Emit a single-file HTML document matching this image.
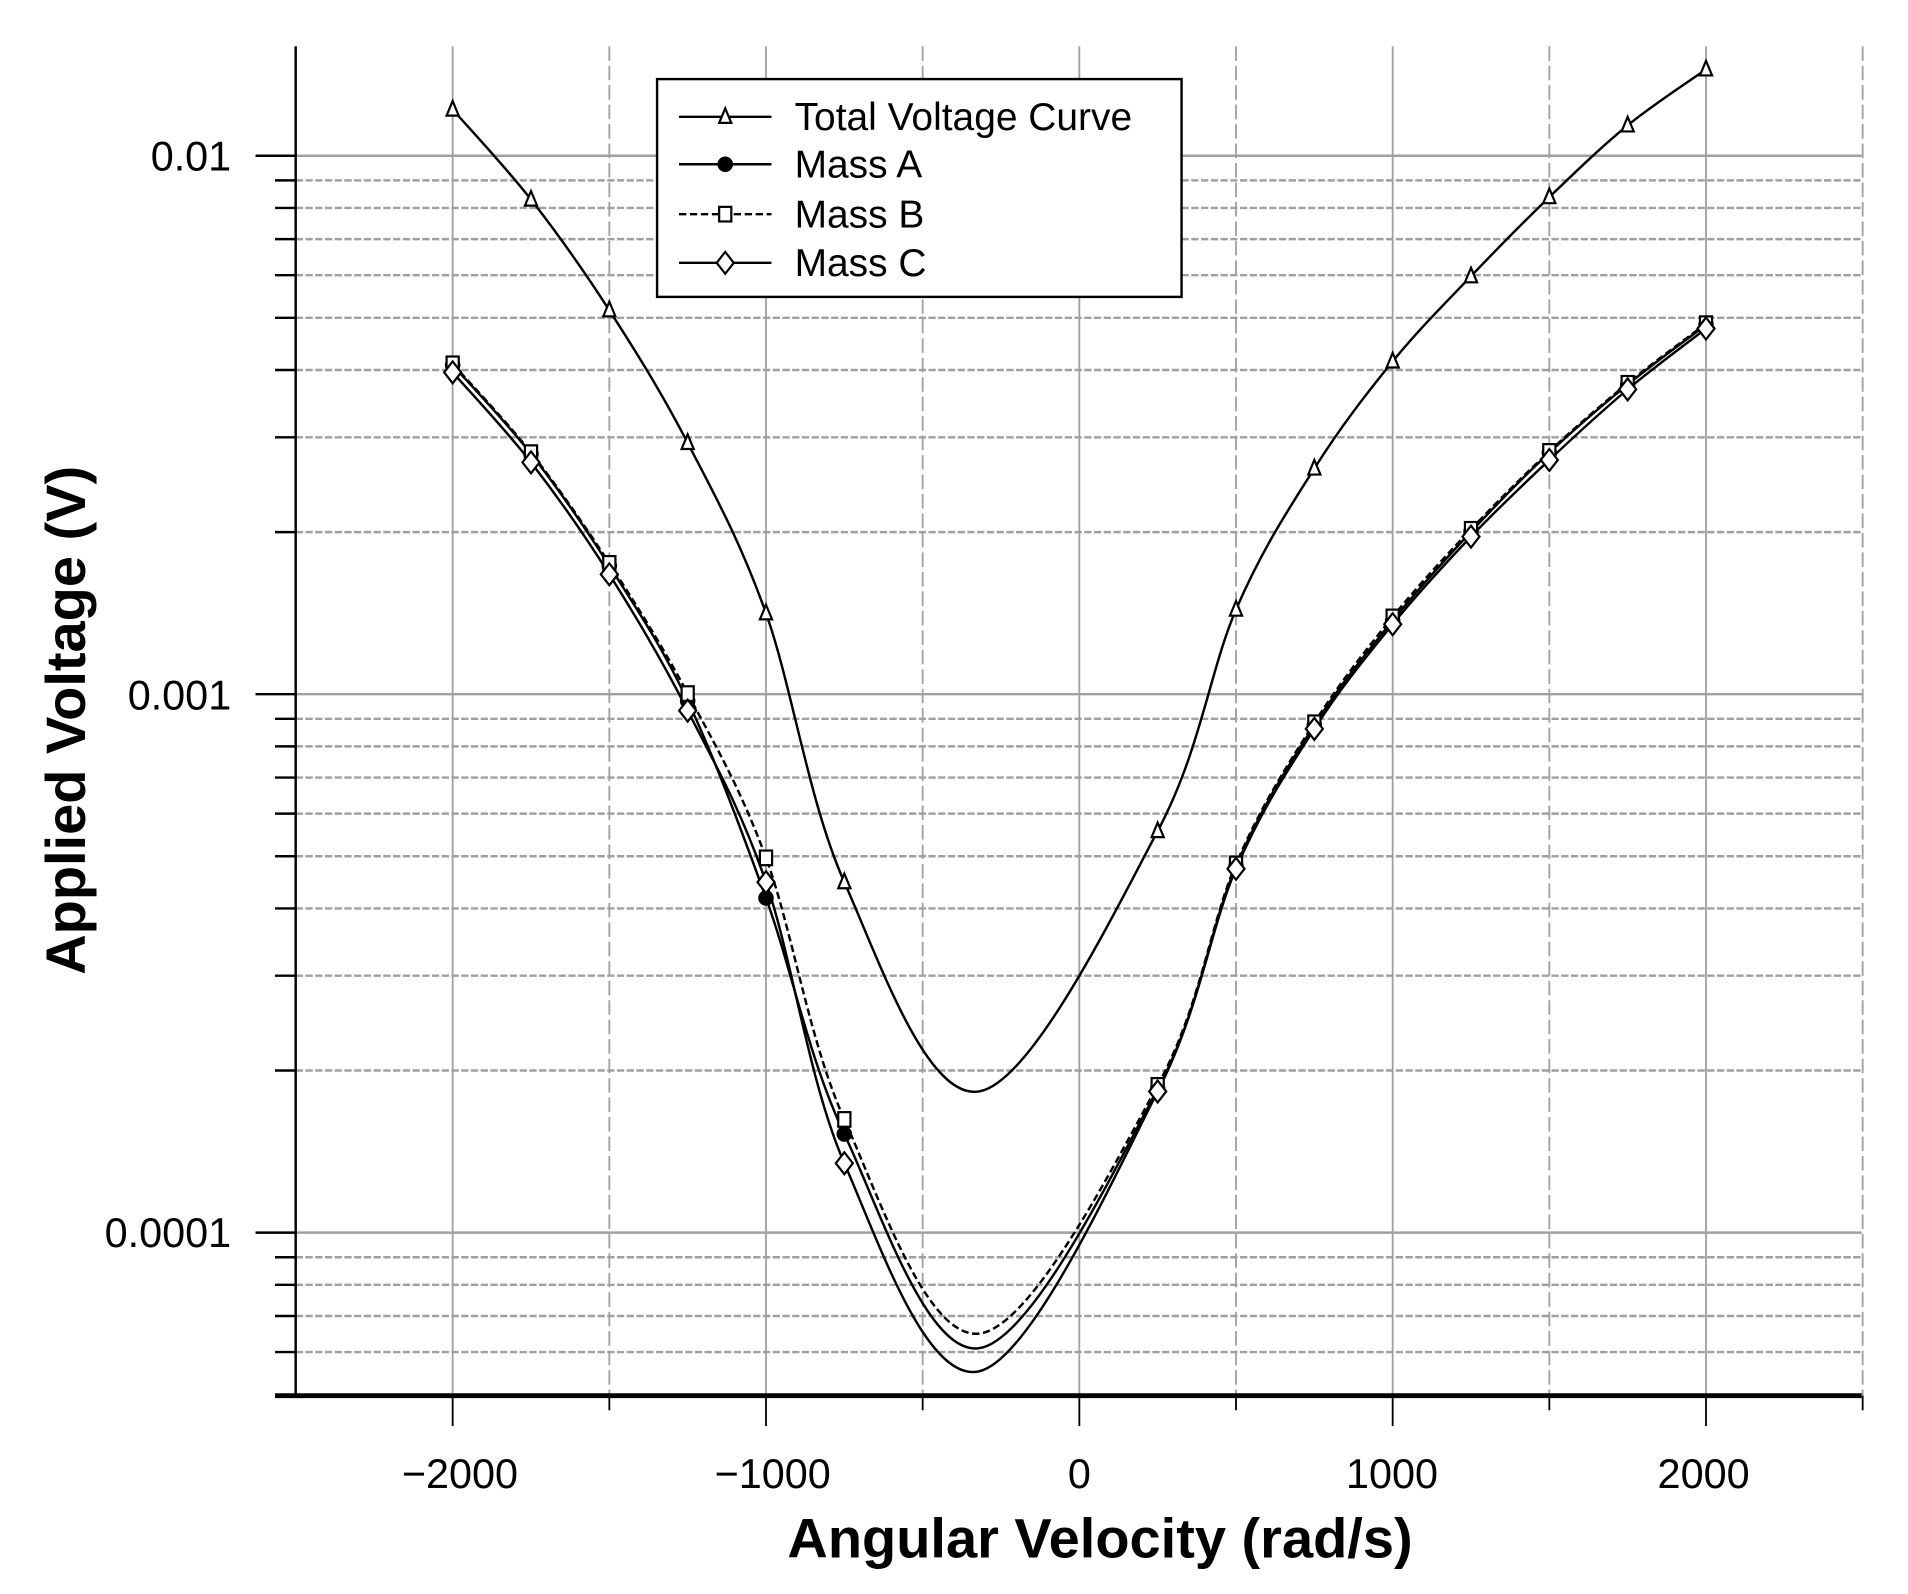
<!DOCTYPE html>
<html><head><meta charset="utf-8"><style>
html,body{margin:0;padding:0;background:#fff;}
svg{display:block;}
text{font-family:"Liberation Sans",Arial,sans-serif;}
</style></head><body>
<svg id="s" width="1908" height="1594" viewBox="0 0 1568 1310" preserveAspectRatio="none" xmlns="http://www.w3.org/2000/svg">
<rect width="1568" height="1310" fill="#fff"/>
<g id="grid"></g>
<g id="axes"></g>
<g id="series"></g>
<g id="legend"></g>
<text x="190" y="140" font-size="34" text-anchor="end">0.01</text>
<text x="190" y="583" font-size="34" text-anchor="end">0.001</text>
<text x="190" y="1025" font-size="34" text-anchor="end">0.0001</text>
<text x="378" y="1223" font-size="34" text-anchor="middle">−2000</text>
<text x="635" y="1223" font-size="34" text-anchor="middle">−1000</text>
<text x="887" y="1223" font-size="34" text-anchor="middle">0</text>
<text x="1144" y="1223" font-size="34" text-anchor="middle">1000</text>
<text x="1400" y="1223" font-size="34" text-anchor="middle">2000</text>
<text x="904" y="1280" font-size="46" font-weight="bold" text-anchor="middle">Angular Velocity (rad/s)</text>
<text transform="translate(70,592) rotate(-90)" font-size="46" font-weight="bold" text-anchor="middle">Applied Voltage (V)</text>
</svg>
<script>
const NS="http://www.w3.org/2000/svg";
function el(p,t,a){const e=document.createElementNS(NS,t);for(const k in a)e.setAttribute(k,a[k]);document.getElementById(p).appendChild(e);return e;}
const X=v=>887+v*0.2575;
const Y=v=>128-(Math.log10(v)+2)*442.5;
for(let d=-5;d<=-2;d++){for(let m=1;m<=9;m++){const v=m*Math.pow(10,d);const y=Y(v);if(y<38||y>1147)continue;
 if(m==1){el('grid','line',{x1:243,x2:1530,y1:y,y2:y,stroke:'#a0a0a0','stroke-width':2});el('axes','line',{x1:210,x2:243,y1:y,y2:y,stroke:'#000','stroke-width':2});}
 else{el('grid','line',{x1:243,x2:1530,y1:y,y2:y,stroke:'#a0a0a0','stroke-width':2,'stroke-dasharray':'6,2'});el('axes','line',{x1:226,x2:243,y1:y,y2:y,stroke:'#000','stroke-width':2});}}}
for(let v=-2000;v<=2500;v+=500){const x=X(v);const maj=v%1000==0;
 el('grid','line',{x1:x,x2:x,y1:38,y2:1147,stroke:'#a0a0a0','stroke-width':1.5,'stroke-dasharray':maj?'none':'12,4'});
 el('axes','line',{x1:x,x2:x,y1:1147,y2:maj?1172:1159,stroke:'#000','stroke-width':1.5});}
el('axes','line',{x1:243,x2:243,y1:38,y2:1147,stroke:'#000','stroke-width':2});
el('axes','line',{x1:226,x2:1530,y1:1147,y2:1147,stroke:'#000','stroke-width':4});
function cr(pts){let d='M'+pts[0][0]+','+pts[0][1];for(let i=0;i<pts.length-1;i++){const p0=pts[Math.max(0,i-1)],p1=pts[i],p2=pts[i+1],p3=pts[Math.min(pts.length-1,i+2)];
 const c1=[p1[0]+(p2[0]-p0[0])/6,p1[1]+(p2[1]-p0[1])/6],c2=[p2[0]-(p3[0]-p1[0])/6,p2[1]-(p3[1]-p1[1])/6];d+=' C'+c1+' '+c2+' '+p2;}return d;}
const S=[
 {m:'tri',dash:'none',p:[[-2000,90,1],[-1750,164,1],[-1500,255,1],[-1250,364,1],[-1000,504,1],[-750,725,1],[-320,897,0],[250,683,1],[500,501,1],[750,385,1],[1000,297,1],[1250,227,1],[1500,162,1],[1750,103,1],[2000,57,1]]},
 {m:'dot',dash:'none',p:[[-2000,300,1],[-1750,373,1],[-1500,465,1],[-1250,576,1],[-1000,738,1],[-750,932,1],[-320,1108,0],[250,895,1],[500,712,1],[750,596,1],[1000,510,1],[1250,437,1],[1500,372,1],[1750,316,1],[2000,267,1]]},
 {m:'sq',dash:'6,3',p:[[-2000,299,1],[-1750,372,1],[-1500,463,1],[-1250,570,1],[-1000,705,1],[-750,920,1],[-320,1096,0],[250,892,1],[500,710,1],[750,594,1],[1000,507,1],[1250,435,1],[1500,371,1],[1750,315,1],[2000,266,1]]},
 {m:'dia',dash:'none',p:[[-2000,306,1],[-1750,380,1],[-1500,472,1],[-1250,584,1],[-1000,725,1],[-750,956,1],[-320,1127,0],[250,897,1],[500,714,1],[750,599,1],[1000,513,1],[1250,441,1],[1500,378,1],[1750,320,1],[2000,270,1]]}];
function marker(g,t,x,y){const a={stroke:'#000','stroke-width':1.8};
 if(t=='tri')el(g,'polygon',Object.assign({points:`${x},${y-7} ${x-5},${y+5} ${x+5},${y+5}`,fill:'#fff'},a));
 if(t=='dot')el(g,'circle',Object.assign({cx:x,cy:y,r:5.5,fill:'#000'},a));
 if(t=='sq')el(g,'rect',Object.assign({x:x-5,y:y-6,width:10,height:12,fill:'#fff'},a));
 if(t=='dia')el(g,'polygon',Object.assign({points:`${x},${y-9} ${x+7},${y} ${x},${y+9} ${x-7},${y}`,fill:'#fff'},a));}
S.forEach(s=>{const pts=s.p.map(q=>[X(q[0]),q[1]]);el('series','path',{d:cr(pts),fill:'none',stroke:'#000','stroke-width':2,'stroke-dasharray':s.dash});});
S.forEach(s=>s.p.forEach(q=>{if(q[2])marker('series',s.m,X(q[0]),q[1]);}));
el('legend','rect',{x:540,y:65,width:431,height:179,fill:'#fff',stroke:'#000','stroke-width':2});
const L=[['Total Voltage Curve','tri','none',96],['Mass A','dot','none',135],['Mass B','sq','6,3',176],['Mass C','dia','none',216]];
L.forEach(l=>{el('legend','line',{x1:558,x2:634,y1:l[3],y2:l[3],stroke:'#000','stroke-width':2,'stroke-dasharray':l[2]});marker('legend',l[1],596,l[3]);
 const t=el('legend','text',{x:653,y:l[3]+11,'font-size':32});t.textContent=l[0];});
</script>
</body></html>
